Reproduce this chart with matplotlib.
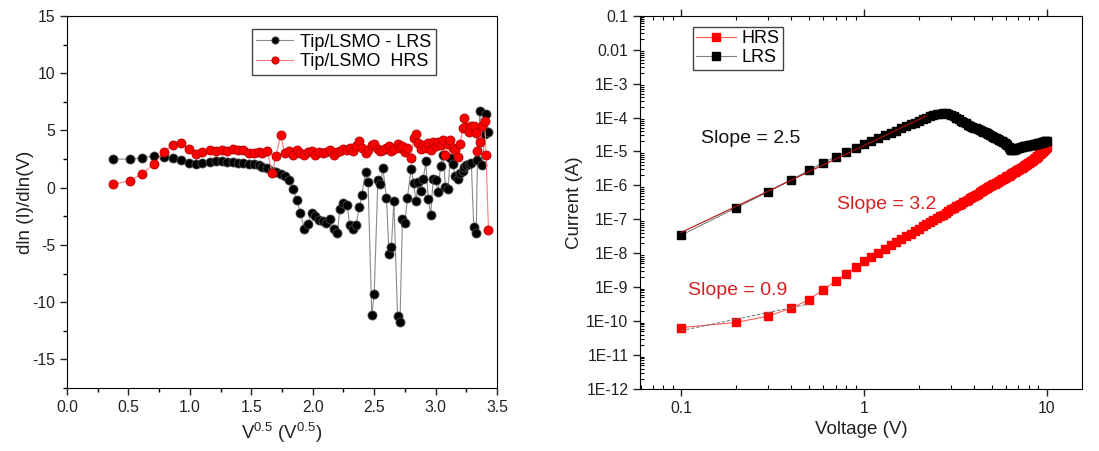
import numpy as np
import matplotlib
matplotlib.use("Agg")
import matplotlib.pyplot as plt
from matplotlib.ticker import MultipleLocator, LogLocator, NullFormatter

plt.rcParams['font.family'] = ['Liberation Sans', 'DejaVu Sans']
plt.rcParams['mathtext.fontset'] = 'custom'
plt.rcParams['mathtext.rm'] = 'Liberation Sans'
plt.rcParams['axes.unicode_minus'] = False

# ---- left panel: dln(I)/dln(V) vs V^0.5 ----
sqrt_v = [0.37, 0.51, 0.61, 0.71, 0.79, 0.86, 0.93, 0.99, 1.05, 1.10,
          1.16, 1.21, 1.26, 1.30, 1.35, 1.39, 1.43, 1.48, 1.52, 1.56,
          1.59, 1.63, 1.67, 1.70, 1.74, 1.77, 1.81, 1.84, 1.87, 1.90,
          1.93, 1.96, 1.99, 2.02, 2.05, 2.08, 2.11, 2.14, 2.17, 2.20,
          2.22, 2.25, 2.28, 2.30, 2.33, 2.35, 2.38, 2.40, 2.43, 2.45,
          2.48, 2.50, 2.53, 2.55, 2.57, 2.60, 2.62, 2.64, 2.66, 2.69,
          2.71, 2.73, 2.75, 2.77, 2.80, 2.82, 2.84, 2.86, 2.88, 2.90,
          2.92, 2.94, 2.96, 2.98, 3.00, 3.02, 3.04, 3.06, 3.08, 3.10,
          3.12, 3.14, 3.16, 3.18, 3.20, 3.22, 3.23, 3.25, 3.27, 3.29,
          3.31, 3.33, 3.34, 3.36, 3.38, 3.40, 3.41, 3.43]
lrs_slope = [2.5, 2.5, 2.6, 2.8, 2.7, 2.6, 2.4, 2.2, 2.05, 2.15,
             2.25, 2.3, 2.3, 2.25, 2.25, 2.2, 2.2, 2.1, 2.05, 1.95,
             1.85, 1.7, 1.5, 1.4, 1.17, 1.0, 0.7, -0.1, -1.1, -2.2,
             -3.6, -3.15, -2.25, -2.5, -2.8, -2.9, -3.1, -2.7, -3.6, -4.0,
             -1.9, -1.3, -1.5, -3.3, -3.6, -3.3, -1.7, -0.6, 1.4, 0.5,
             -11.1, -9.3, 0.7, 0.3, 1.75, -0.9, -5.75, -5.2, -1.15, -11.2,
             -11.7, -2.7, -3.1, -0.9, 1.66, 0.45, -1.2, 0.5, -0.3, 0.8,
             2.3, -1.0, -2.4, 0.8, 0.7, -0.35, 1.9, 2.85, 0.1, -0.1,
             2.6, 2.1, 1.0, 0.8, 1.3, 1.5, 1.8, 2.0, 2.1, 2.2,
             -3.4, -4.0, 2.4, 6.7, 1.95, 4.7, 6.4, 4.9]
hrs_slope = [0.3, 0.6, 1.2, 2.1, 3.1, 3.75, 3.9, 3.4, 2.95, 3.1,
             3.25, 3.2, 3.3, 3.2, 3.35, 3.25, 3.3, 3.0, 3.05, 3.15,
             3.0, 3.2, 1.3, 2.8, 4.6, 3.0, 3.2, 2.9, 3.3, 3.0,
             2.9, 3.1, 3.2, 2.9, 3.1, 3.0, 3.1, 3.3, 2.9, 3.1,
             3.2, 3.4, 3.3, 3.5, 3.2, 3.6, 4.05, 3.5, 3.0, 3.3,
             3.7, 3.8, 3.4, 3.2, 3.3, 3.5, 3.6, 3.2, 3.4, 3.8,
             3.5, 3.6, 3.1, 3.5, 2.6, 4.3, 4.7, 3.9, 3.4, 3.7,
             3.5, 3.9, 3.3, 4.0, 3.6, 4.0, 3.7, 4.2, 2.9, 3.8,
             4.2, 3.5, 3.3, 2.7, 3.8, 5.2, 6.1, 5.3, 4.9, 5.4,
             5.4, 4.8, 3.2, 4.0, 5.4, 5.8, 2.9, -3.7]

# ---- right panel: I-V on log-log ----
voltage = [0.1, 0.2, 0.3, 0.4, 0.5, 0.6, 0.7, 0.8, 0.9, 1.0,
           1.1, 1.2, 1.3, 1.4, 1.5, 1.6, 1.7, 1.8, 1.9, 2.0,
           2.1, 2.2, 2.3, 2.4, 2.5, 2.6, 2.7, 2.8, 2.9, 3.0,
           3.1, 3.2, 3.3, 3.4, 3.5, 3.6, 3.7, 3.8, 3.9, 4.0,
           4.1, 4.2, 4.3, 4.4, 4.5, 4.6, 4.7, 4.8, 4.9, 5.0,
           5.1, 5.2, 5.3, 5.4, 5.5, 5.6, 5.7, 5.8, 5.9, 6.0,
           6.1, 6.2, 6.3, 6.4, 6.5, 6.6, 6.7, 6.8, 6.9, 7.0,
           7.1, 7.2, 7.3, 7.4, 7.5, 7.6, 7.7, 7.8, 7.9, 8.0,
           8.1, 8.2, 8.3, 8.4, 8.5, 8.6, 8.7, 8.8, 8.9, 9.0,
           9.1, 9.2, 9.3, 9.4, 9.5, 9.6, 9.7, 9.8, 9.9, 10.0]
# log10 of current (A)
hrs_log_i = [-10.19, -10.04, -9.85, -9.62, -9.37, -9.07, -8.82, -8.60, -8.41, -8.24,
             -8.11, -7.99, -7.88, -7.77, -7.68, -7.59, -7.50, -7.42, -7.35, -7.28,
             -7.21, -7.15, -7.08, -7.02, -6.97, -6.91, -6.86, -6.81, -6.76, -6.71,
             -6.67, -6.62, -6.58, -6.54, -6.50, -6.46, -6.42, -6.38, -6.35, -6.31,
             -6.28, -6.25, -6.21, -6.18, -6.15, -6.12, -6.09, -6.06, -6.03, -6.00,
             -5.97, -5.95, -5.92, -5.90, -5.87, -5.85, -5.82, -5.80, -5.77, -5.75,
             -5.73, -5.71, -5.68, -5.66, -5.64, -5.62, -5.60, -5.57, -5.55, -5.54,
             -5.52, -5.50, -5.48, -5.46, -5.44, -5.41, -5.40, -5.37, -5.35, -5.33,
             -5.31, -5.29, -5.27, -5.25, -5.23, -5.20, -5.18, -5.16, -5.14, -5.12,
             -5.09, -5.07, -5.05, -5.03, -5.00, -4.98, -4.95, -4.93, -4.90, -4.88]
lrs_log_i = [-7.47, -6.66, -6.19, -5.83, -5.56, -5.33, -5.16, -5.01, -4.89, -4.78,
             -4.70, -4.61, -4.53, -4.45, -4.39, -4.32, -4.26, -4.20, -4.15, -4.10,
             -4.05, -4.01, -3.97, -3.94, -3.91, -3.89, -3.88, -3.88, -3.90, -3.93,
             -3.97, -4.01, -4.05, -4.09, -4.13, -4.17, -4.21, -4.25, -4.27, -4.30,
             -4.32, -4.35, -4.37, -4.40, -4.42, -4.44, -4.47, -4.49, -4.52, -4.54,
             -4.56, -4.59, -4.61, -4.64, -4.66, -4.68, -4.70, -4.73, -4.76, -4.78,
             -4.80, -4.86, -4.93, -4.97, -4.96, -4.95, -4.94, -4.92, -4.91, -4.90,
             -4.89, -4.88, -4.87, -4.86, -4.85, -4.85, -4.84, -4.83, -4.83, -4.82,
             -4.81, -4.81, -4.80, -4.80, -4.79, -4.79, -4.78, -4.78, -4.77, -4.76,
             -4.75, -4.74, -4.74, -4.73, -4.72, -4.72, -4.71, -4.70, -4.70, -4.69]
current_ticks = [1e-1, 1e-2, 1e-3, 1e-4, 1e-5, 1e-6, 1e-7, 1e-8, 1e-9, 1e-10, 1e-11, 1e-12]
current_labels = ['0.1', '0.01', '1E-3', '1E-4', '1E-5', '1E-6', '1E-7', '1E-8',
                  '1E-9', '1E-10', '1E-11', '1E-12']
volt_ticks = [0.1, 1, 10]
volt_labels = ['0.1', '1', '10']

txt = '#222222'
fig = plt.figure(figsize=(10.99, 4.51), dpi=100)

# left
ax1 = fig.add_axes([0.061, 0.1397, 0.3913, 0.8248])
ax1.plot(sqrt_v, lrs_slope, color='#8a8a8a', lw=0.8, marker='o', ms=6.5,
         mfc='black', mec='#4a4a4a', mew=0.6, label='Tip/LSMO - LRS')
ax1.plot(sqrt_v, hrs_slope, color='#ff7a7a', lw=0.8, marker='o', ms=6.5,
         mfc='#ff0000', mec='#b00000', mew=0.6, label='Tip/LSMO  HRS')
ax1.set_xlim(0, 3.5)
ax1.set_ylim(-17.5, 15)
ax1.xaxis.set_major_locator(MultipleLocator(0.5))
ax1.xaxis.set_minor_locator(MultipleLocator(0.25))
ax1.yaxis.set_major_locator(MultipleLocator(5))
ax1.yaxis.set_minor_locator(MultipleLocator(2.5))
ax1.xaxis.set_major_formatter(matplotlib.ticker.FormatStrFormatter('%.1f'))
ax1.tick_params(which='major', direction='out', length=5, width=1, labelsize=11.3, colors=txt)
ax1.tick_params(which='minor', direction='out', length=3, width=1)
ax1.set_xlabel(r'V$^{0.5}$ (V$^{0.5}$)', fontsize=13.5, color=txt)
ax1.set_ylabel('dln (I)/dln(V)', fontsize=13.5, color=txt, labelpad=-1.5)
leg1 = ax1.legend(loc='upper left', bbox_to_anchor=(0.43, 0.965), fontsize=13,
                  fancybox=False, edgecolor='#444444', framealpha=1,
                  handlelength=2.0, borderpad=0.25, labelspacing=0.15,
                  handletextpad=0.4, borderaxespad=0, markerscale=0.8)
leg1.get_frame().set_linewidth(1.0)

# right
ax2 = fig.add_axes([0.5824, 0.1375, 0.4021, 0.8277])
hrs_i = 10 ** np.array(hrs_log_i)
lrs_i = 10 ** np.array(lrs_log_i)
v = np.array(voltage)
ax2.plot(v, hrs_i, color='#ff5a5a', lw=0.8, marker='s', ms=5.5,
         mfc='#ff0000', mec='#ff0000', label='HRS')
ax2.plot(v, lrs_i, color='#808080', lw=0.8, marker='s', ms=5.5,
         mfc='black', mec='black', label='LRS')

# power-law fits drawn over the data
m = v <= 2.2
p = np.polyfit(np.log10(v[m]), np.log10(lrs_i[m]), 1)
ax2.plot(v[m], 10 ** np.polyval(p, np.log10(v[m])), color='#b01010', lw=0.8)
m = v <= 0.5
p = np.polyfit(np.log10(v[m]), np.log10(hrs_i[m]), 1)
ax2.plot(v[m], 10 ** np.polyval(p, np.log10(v[m])), color='#707070', lw=0.7, ls='--')

ax2.set_xscale('log')
ax2.set_yscale('log')
ax2.set_xlim(0.0596, 15.6)
ax2.set_ylim(1e-12, 0.1)
ax2.set_xticks(volt_ticks, labels=volt_labels)
ax2.set_yticks(current_ticks, labels=current_labels)
ax2.xaxis.set_minor_locator(LogLocator(base=10, subs=np.arange(2, 10), numticks=20))
ax2.yaxis.set_minor_locator(LogLocator(base=10, subs=np.arange(2, 10), numticks=30))
ax2.xaxis.set_minor_formatter(NullFormatter())
ax2.yaxis.set_minor_formatter(NullFormatter())
ax2.tick_params(which='major', direction='out', length=5, width=1, labelsize=11.3,
                colors=txt, top=True)
ax2.tick_params(which='minor', direction='in', length=3, width=0.8, top=True)
ax2.set_xlabel('Voltage (V)', fontsize=13.5, color=txt)
ax2.set_ylabel('Current (A)', fontsize=13.5, color=txt, labelpad=2)
ax2.text(0.128, 2.35e-5, 'Slope = 2.5', fontsize=14, color='#111111', va='center')
ax2.text(0.71, 2.7e-7, 'Slope = 3.2', fontsize=14, color='#d42020', va='center')
ax2.text(0.109, 7.9e-10, 'Slope = 0.9', fontsize=14, color='#d42020', va='center')
leg2 = ax2.legend(loc='upper left', bbox_to_anchor=(0.119, 0.971), fontsize=13,
                  fancybox=False, edgecolor='#444444', framealpha=1,
                  handlelength=2.2, borderpad=0.2, labelspacing=0.1,
                  handletextpad=0.3, borderaxespad=0)
leg2.get_frame().set_linewidth(1.0)

fig.savefig('out.png', dpi=100)
